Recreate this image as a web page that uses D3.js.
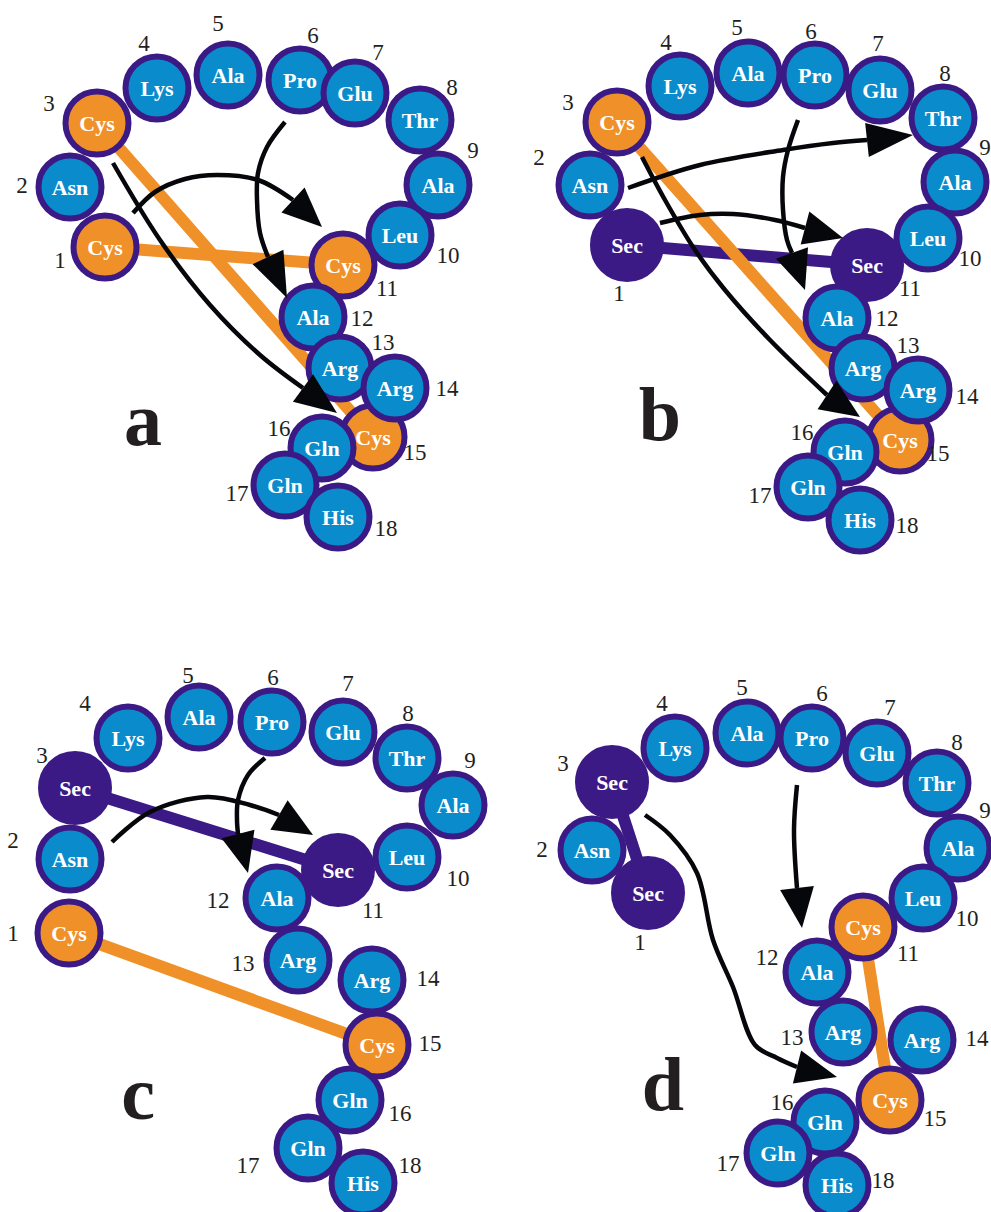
<!DOCTYPE html>
<html lang="en">
<head>
<meta charset="UTF-8">
<title>Peptide bridge maps a-d</title>
<style>
  body { margin: 0; background: #fff; }
  svg { display: block; }
  text { font-family: "Liberation Serif", "DejaVu Serif", "Times New Roman", serif; }
</style>
</head>
<body>
<script src="https://cdn.jsdelivr.net/npm/d3@7/dist/d3.min.js"></script>
<script>
// residue names, one list per panel (position 1..18)
const namesA = ["Cys","Asn","Cys","Lys","Ala","Pro","Glu","Thr","Ala","Leu","Cys","Ala","Arg","Arg","Cys","Gln","Gln","His"];
const namesB = ["Sec","Asn","Cys","Lys","Ala","Pro","Glu","Thr","Ala","Leu","Sec","Ala","Arg","Arg","Cys","Gln","Gln","His"];
const namesC = ["Cys","Asn","Sec","Lys","Ala","Pro","Glu","Thr","Ala","Leu","Sec","Ala","Arg","Arg","Cys","Gln","Gln","His"];
const namesD = ["Sec","Asn","Sec","Lys","Ala","Pro","Glu","Thr","Ala","Leu","Cys","Ala","Arg","Arg","Cys","Gln","Gln","His"];

// residue centres inside each panel
const posA = [[105,247],[70,187],[97,123],[157,88],[228,75],[300,80],[355,93],[420,120],[438,185],[400,235],[343,265],[313,317],[340,368],[395,388],[373,437],[322,448],[285,485],[338,517]];
const posB = [[127,245],[90,185],[117,122],[180,86],[248,73],[315,75],[380,90],[443,118],[455,182],[428,238],[367,265],[337,318],[363,368],[418,390],[400,440],[345,452],[308,487],[360,520]];
const posC = [[69,273],[70,199],[75,128],[128,78],[199,57],[272,62],[343,72],[407,98],[453,145],[407,197],[338,210],[277,238],[298,300],[372,320],[377,385],[350,440],[308,488],[363,523]];
const posD = [[148,233],[92,190],[112,122],[175,88],[247,73],[312,78],[377,93],[437,123],[458,188],[423,238],[363,267],[317,312],[343,372],[422,380],[390,440],[325,462],[278,493],[337,525]];

// number label spots
const numA = [[60,260],[22,185],[49,103],[144,43],[218,23],[313,35],[378,52],[452,87],[473,150],[448,255],[387,288],[362,318],[383,342],[447,388],[415,452],[279,428],[237,493],[386,528]];
const numB = [[119,293],[39,157],[68,102],[166,42],[237,27],[311,31],[378,43],[445,73],[485,147],[470,258],[410,288],[387,318],[408,345],[467,396],[438,453],[302,432],[260,495],[407,525]];
const numC = [[13,273],[13,180],[42,95],[85,43],[188,15],[273,17],[348,23],[408,53],[470,100],[458,218],[373,250],[218,240],[243,303],[428,318],[430,383],[400,453],[248,505],[410,505]];
const numD = [[140,282],[42,189],[63,103],[162,43],[242,27],[322,33],[390,47],[457,82],[485,150],[467,258],[408,293],[267,297],[292,377],[477,378],[435,458],[282,442],[228,503],[383,520]];

// bridges between residues (1-based positions)
const bondsA = [[1,11],[3,15]];
const bondsB = [[1,11],[3,15]];
const bondsC = [[3,11],[1,15]];
const bondsD = [[3,1],[11,15]];

// arrows: path points, last one is the arrow tip
const arrowsA = [
  [[113,163],[160,240],[210,305],[260,355],[303,388],[337,413]],
  [[133,213],[155,192],[185,179],[217,175],[258,180],[293,200],[322,227]],
  [[285,122],[267,147],[258,173],[257,200],[260,233],[268,257],[287,298]]
];
const arrowsB = [
  [[128,188],[200,165],[283,150],[333,143],[367,140],[413,135]],
  [[160,223],[200,215],[233,214],[275,220],[305,228],[343,238]],
  [[298,120],[288,150],[283,177],[283,210],[287,240],[292,253],[305,290]],
  [[142,157],[165,200],[195,250],[225,290],[270,340],[327,395],[360,417]]
];
const arrowsC = [
  [[112,182],[150,152],[207,137],[250,145],[279,155],[313,175]],
  [[265,98],[248,115],[238,140],[237,160],[238,174],[248,213]]
];
const arrowsD = [
  [[297,125],[294,170],[297,228],[302,268]],
  [[145,155],[170,175],[197,213],[213,280],[233,327],[255,385],[277,398],[297,407],[337,417]]
];

const letterPos = [[143,418],[160,413],[138,432],[163,423]];
const panelLetters = ["a","b","c","d"];
const panelOrigin = [[0,0],[500,0],[0,660],[500,660]];

const panels = [
  {names: namesA, pos: posA, nums: numA, bonds: bondsA, arrows: arrowsA},
  {names: namesB, pos: posB, nums: numB, bonds: bondsB, arrows: arrowsB},
  {names: namesC, pos: posC, nums: numC, bonds: bondsC, arrows: arrowsC},
  {names: namesD, pos: posD, nums: numD, bonds: bondsD, arrows: arrowsD}
];

const W = 991, H = 1212;
const blue = "#0a8bcc", purple = "#3c1a86", orange = "#ef9128", ink = "#231f20", arrowInk = "#06070b";

const svg = d3.select("body").append("svg")
  .attr("width", W)
  .attr("height", H);

const fillFor = n => n === "Cys" ? orange : n === "Sec" ? purple : blue;

panels.forEach((p, i) => {
  const [ox, oy] = panelOrigin[i];
  const x = d3.scaleLinear().domain([0, 500]).range([ox, ox + 500]);
  const y = d3.scaleLinear().domain([0, 560]).range([oy, oy + 560]);
  const g = svg.append("g");

  // bridges
  g.selectAll("line.bond")
    .data(p.bonds)
    .enter()
    .append("line")
    .attr("x1", d => x(p.pos[d[0] - 1][0]))
    .attr("y1", d => y(p.pos[d[0] - 1][1]))
    .attr("x2", d => x(p.pos[d[1] - 1][0]))
    .attr("y2", d => y(p.pos[d[1] - 1][1]))
    .attr("stroke", d => p.names[d[0] - 1] === "Sec" ? purple : orange)
    .attr("stroke-width", 12);

  // residues: bridged ones underneath the others
  const res = p.names.map((n, k) => ({n, k, special: n !== "Cys" && n !== "Sec" ? 1 : 0}));
  res.sort((a, b) => a.special - b.special || a.k - b.k);

  const node = g.selectAll("g.res")
    .data(res)
    .enter()
    .append("g")
    .attr("transform", d => `translate(${x(p.pos[d.k][0])},${y(p.pos[d.k][1])})`);

  node.append("circle")
    .attr("r", d => d.n === "Sec" ? 34 : 31.5)
    .attr("fill", d => fillFor(d.n))
    .attr("stroke", purple)
    .attr("stroke-width", 6);

  node.append("text")
    .text(d => d.n)
    .attr("text-anchor", "middle")
    .attr("dy", "0.35em")
    .attr("fill", "#fff")
    .attr("font-weight", "bold")
    .attr("font-size", 22);

  // numbers
  g.selectAll("text.num")
    .data(p.nums)
    .enter()
    .append("text")
    .text((d, k) => k + 1)
    .attr("x", d => x(d[0]))
    .attr("y", d => y(d[1]))
    .attr("text-anchor", "middle")
    .attr("dy", "0.35em")
    .attr("fill", ink)
    .attr("font-size", 23);

  // arrows
  const line = d3.line()
    .x(d => x(d[0]))
    .y(d => y(d[1]))
    .curve(d3.curveCatmullRom.alpha(0.5));

  p.arrows.forEach(pts => {
    const body = pts.slice(0, -1);
    const tip = pts[pts.length - 1];
    const base = body[body.length - 1];
    g.append("path")
      .attr("d", line(body))
      .attr("fill", "none")
      .attr("stroke", arrowInk)
      .attr("stroke-width", 4.5);
    const tx = x(tip[0]), ty = y(tip[1]);
    const bx = x(base[0]), by = y(base[1]);
    const len = Math.hypot(tx - bx, ty - by);
    const ux = (tx - bx) / len, uy = (ty - by) / len;
    const hw = 17;
    g.append("polygon")
      .attr("points", [[tx, ty], [bx - uy * hw, by + ux * hw], [bx + uy * hw, by - ux * hw]].map(q => q.join(",")).join(" "))
      .attr("fill", arrowInk);
  });

  // panel letter
  g.append("text")
    .text(panelLetters[i])
    .attr("x", x(letterPos[i][0]))
    .attr("y", y(letterPos[i][1]))
    .attr("text-anchor", "middle")
    .attr("dy", "0.35em")
    .attr("fill", ink)
    .attr("font-weight", "bold")
    .attr("font-size", 76);
});
</script>
</body>
</html>
